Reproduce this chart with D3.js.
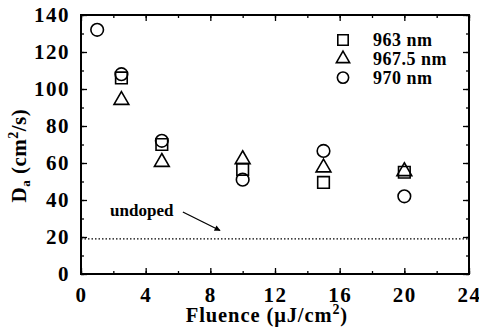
<!DOCTYPE html>
<html>
<head>
<meta charset="utf-8">
<script src="https://cdn.jsdelivr.net/npm/d3@7"></script>
<style>
  body { margin: 0; background: #fff; }
</style>
</head>
<body>
<div id="chart"></div>
<script>
// data
var fluence = [1, 2.5, 5, 10, 15, 20];
var d963 = [null, 106, 70, 56.5, 49.5, 55];
var d967 = [null, 94, 60.5, 62, 57.5, 55.5];
var d970 = [132, 108, 72, 51, 66.5, 42];
var seriesNames = ["963 nm", "967.5 nm", "970 nm"];
var xTicks = [0, 4, 8, 12, 16, 20, 24];
var yTicks = [0, 20, 40, 60, 80, 100, 120, 140];
var undoped = 19;

var FONT = '"Liberation Serif", serif';
var W = 479, H = 327;
var margin = {left: 81, right: 10, top: 15, bottom: 53};
var width = W - margin.left - margin.right,
    height = H - margin.top - margin.bottom;

var root = d3.select('#chart').append('svg')
  .attr('width', W).attr('height', H);
var svg = root.append('g')
  .attr('transform', 'translate(' + margin.left + ',' + margin.top + ')');

var x = d3.scaleLinear().domain([0, 24]).range([0, width]);
var y = d3.scaleLinear().domain([0, 140]).range([height, 0]);

// minor ticks
var xMinor = d3.range(0, 25, 2), yMinor = d3.range(0, 141, 10);
function axisStyle(g) {
  g.select('.domain').remove();
  g.selectAll('line').attr('stroke', '#000').attr('stroke-width', 1.3);
}
svg.append('g').attr('transform', 'translate(0,' + height + ')')
  .call(d3.axisBottom(x).tickValues(xMinor).tickSize(-3).tickFormat(''))
  .call(axisStyle);
svg.append('g')
  .call(d3.axisTop(x).tickValues(xMinor).tickSize(-3).tickFormat(''))
  .call(axisStyle);
svg.append('g')
  .call(d3.axisLeft(y).tickValues(yMinor).tickSize(-3).tickFormat(''))
  .call(axisStyle);
svg.append('g').attr('transform', 'translate(' + width + ',0)')
  .call(d3.axisRight(y).tickValues(yMinor).tickSize(-3).tickFormat(''))
  .call(axisStyle);

// major ticks with labels
var xAx = svg.append('g').attr('transform', 'translate(0,' + height + ')')
  .call(d3.axisBottom(x).tickValues(xTicks).tickSize(-6).tickPadding(13))
  .call(axisStyle);
xAx.selectAll('text').attr('font-size', 21).attr('font-weight', 'bold')
  .attr('letter-spacing', 1.5).attr('fill', '#000');
svg.append('g')
  .call(d3.axisTop(x).tickValues(xTicks).tickSize(-6).tickFormat(''))
  .call(axisStyle);
var yAx = svg.append('g')
  .call(d3.axisLeft(y).tickValues(yTicks).tickSize(-6).tickPadding(11))
  .call(axisStyle);
yAx.selectAll('text').attr('font-size', 21).attr('font-weight', 'bold')
  .attr('letter-spacing', 1.5).attr('fill', '#000');
svg.append('g').attr('transform', 'translate(' + width + ',0)')
  .call(d3.axisRight(y).tickValues(yTicks).tickSize(-6).tickFormat(''))
  .call(axisStyle);

// frame
svg.append('rect').attr('width', width).attr('height', height)
  .attr('fill', 'none').attr('stroke', '#000').attr('stroke-width', 2);

// undoped reference line
svg.append('line')
  .attr('x1', x(0)).attr('x2', x(24))
  .attr('y1', y(undoped)).attr('y2', y(undoped))
  .attr('stroke', '#000').attr('stroke-width', 1.3)
  .attr('stroke-dasharray', '1.5,2');

svg.append('text').attr('x', x(1.8)).attr('y', y(31.5))
  .attr('font-size', 17).attr('font-weight', 'bold').text('undoped');

svg.append('defs').append('marker').attr('id', 'arr')
  .attr('viewBox', '0 0 10 10').attr('refX', 9).attr('refY', 5)
  .attr('markerWidth', 8).attr('markerHeight', 6).attr('orient', 'auto')
  .attr('markerUnits', 'userSpaceOnUse')
  .append('path').attr('d', 'M0,0L10,5L0,10z').attr('fill', '#000');
svg.append('line')
  .attr('x1', x(6.3)).attr('y1', y(33.5))
  .attr('x2', x(8.6)).attr('y2', y(23.5))
  .attr('stroke', '#000').attr('stroke-width', 1.3)
  .attr('marker-end', 'url(#arr)');

// symbols
var shapes = [d3.symbolSquare, d3.symbolTriangle, d3.symbolCircle];
var sizes = [135, 95, 125];
var allSeries = [d963, d967, d970];

allSeries.forEach(function(vals, i) {
  var pts = fluence.map(function(f, j) { return {f: f, v: vals[j]}; })
    .filter(function(d) { return d.v != null; });
  svg.selectAll('.s' + i).data(pts).enter().append('path')
    .attr('class', 's' + i)
    .attr('d', d3.symbol().type(shapes[i]).size(sizes[i]))
    .attr('transform', function(d) { return 'translate(' + x(d.f) + ',' + y(d.v) + ')'; })
    .attr('fill', 'none').attr('stroke', '#000').attr('stroke-width', 1.6);
});

// legend
var leg = svg.append('g').attr('transform', 'translate(' + (343 - margin.left) + ',' + (40 - margin.top) + ')');
seriesNames.forEach(function(name, i) {
  var row = leg.append('g').attr('transform', 'translate(0,' + (i * 18.8) + ')');
  row.append('path').attr('d', d3.symbol().type(shapes[i]).size(sizes[i] * 0.8))
    .attr('fill', 'none').attr('stroke', '#000').attr('stroke-width', 1.6);
  row.append('text').attr('x', 30).attr('y', 6)
    .attr('font-size', 18).attr('font-weight', 'bold').attr('letter-spacing', 0.5)
    .text(name);
});

// axis titles
var xt = svg.append('text').attr('x', x(11.5)).attr('y', height + 48)
  .attr('text-anchor', 'middle').attr('font-size', 20.5).attr('font-weight', 'bold')
  .attr('letter-spacing', 0.9);
xt.append('tspan').text('Fluence (\u03BCJ/cm');
xt.append('tspan').attr('font-size', 14).attr('dy', -8).text('2');
xt.append('tspan').attr('dy', 8).text(')');

var yt = svg.append('text')
  .attr('transform', 'translate(' + (-55) + ',' + y(64) + ') rotate(-90)')
  .attr('text-anchor', 'middle').attr('font-size', 21).attr('font-weight', 'bold')
  .attr('letter-spacing', 0.5);
yt.append('tspan').text('D');
yt.append('tspan').attr('font-size', 13).attr('dy', 4).text('a');
yt.append('tspan').attr('dy', -4).text(' (cm');
yt.append('tspan').attr('font-size', 14).attr('dy', -8).text('2');
yt.append('tspan').attr('dy', 8).text('/s)');

// serif everywhere, set inline so nothing overrides it
root.selectAll('text').style('font-family', FONT);
</script>
</body>
</html>
